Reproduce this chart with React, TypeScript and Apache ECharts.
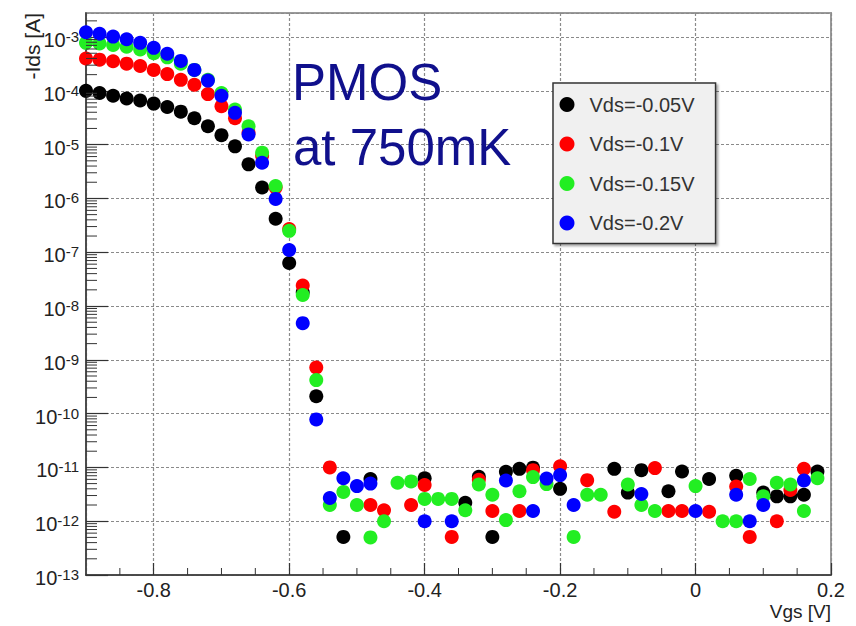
import React, { useEffect, useRef } from 'react';
import * as echarts from 'echarts';

// Gate voltage (V)
const vgs = [
  -0.9, -0.88, -0.86, -0.84, -0.82, -0.8, -0.78, -0.76, -0.74, -0.72,
  -0.7, -0.68, -0.66, -0.64, -0.62, -0.6, -0.58, -0.56, -0.54, -0.52,
  -0.5, -0.48, -0.46, -0.44, -0.42, -0.4, -0.38, -0.36, -0.34, -0.32,
  -0.3, -0.28, -0.26, -0.24, -0.22, -0.2, -0.18, -0.16, -0.14, -0.12,
  -0.1, -0.08, -0.06, -0.04, -0.02, 0, 0.02, 0.04, 0.06, 0.08,
  0.1, 0.12, 0.14, 0.16, 0.18,
];

// -Ids (A); null = not shown (negative / below range)
const idsVds005 = [
  1.0e-4, 9.1e-5, 8.1e-5, 7.2e-5, 6.6e-5, 5.8e-5, 5.0e-5, 4.1e-5, 3.1e-5, 2.2e-5,
  1.5e-5, 9.3e-6, 4.3e-6, 1.6e-6, 4.2e-7, 6.3e-8, 1.8e-8, 2.1e-10, null, 5.1e-13,
  null, 6.1e-12, null, null, null, 6.3e-12, null, null, 2.2e-12, 6.7e-12,
  5.1e-13, 8.3e-12, 9.4e-12, 9.9e-12, null, 4.0e-12, null, null, null, 9.4e-12,
  3.4e-12, 8.9e-12, null, 3.6e-12, 8.4e-12, null, 6.1e-12, null, 7.0e-12, null,
  3.4e-12, 2.9e-12, 2.9e-12, 3.1e-12, 8.4e-12,
];
const idsVds01 = [
  4.0e-4, 3.8e-4, 3.55e-4, 3.2e-4, 2.9e-4, 2.45e-4, 2.05e-4, 1.6e-4, 1.3e-4, 8.7e-5,
  5.2e-5, 3.1e-5, 1.66e-5, 6.2e-6, 1.6e-6, 2.7e-7, 2.4e-8, 7.2e-10, 1.0e-11, null,
  null, 2.0e-12, 1.6e-12, null, 2.0e-12, 4.7e-12, null, 5.1e-13, null, 5.9e-12,
  1.55e-12, null, 1.55e-12, 8.9e-12, null, 1.05e-11, null, 5.8e-12, null, 1.5e-12,
  null, null, 9.7e-12, 1.55e-12, 1.55e-12, null, 1.5e-12, null, 4.4e-12, 5.1e-13,
  null, 1.0e-12, 3.8e-12, 9.4e-12, null,
];
const idsVds015 = [
  7.8e-4, 7.6e-4, 7.1e-4, 6.6e-4, 5.9e-4, 5.0e-4, 4.2e-4, 3.2e-4, 2.45e-4, 1.6e-4,
  9.1e-5, 4.5e-5, 2.2e-5, 7.1e-6, 1.7e-6, 2.5e-7, 1.6e-8, 4.2e-10, 2.0e-12, 3.5e-12,
  2.0e-12, 5.0e-13, 1.0e-12, 5.2e-12, 5.5e-12, 2.6e-12, 2.6e-12, 2.6e-12, 1.6e-12, 4.8e-12,
  3.1e-12, 1.05e-12, 3.6e-12, 6.6e-12, 4.9e-12, null, 5.1e-13, 3.1e-12, 3.1e-12, null,
  4.8e-12, 2.0e-12, 1.55e-12, null, null, 4.5e-12, null, 1.0e-12, 1.0e-12, 6.1e-12,
  2.9e-12, 5.2e-12, 4.8e-12, 1.55e-12, 6.3e-12,
];
const idsVds02 = [
  1.23e-3, 1.15e-3, 1.02e-3, 9.1e-4, 7.8e-4, 6.3e-4, 4.9e-4, 3.6e-4, 2.45e-4, 1.55e-4,
  8.1e-5, 3.9e-5, 1.55e-5, 4.6e-6, 9.8e-7, 1.1e-7, 4.8e-9, 7.8e-11, 2.7e-12, 6.3e-12,
  4.5e-12, 5.0e-12, null, null, null, 1.0e-12, null, 1.0e-12, null, null,
  null, 5.7e-12, null, 1.55e-12, 6.2e-12, 7.2e-12, 2.0e-12, null, null, null,
  null, 3.2e-12, null, null, null, 1.55e-12, null, null, 3.1e-12, 1.0e-12,
  2.0e-12, null, null, 5.7e-12, null,
];

const seriesNames = ['Vds=-0.05V', 'Vds=-0.1V', 'Vds=-0.15V', 'Vds=-0.2V'];
const seriesData = [idsVds005, idsVds01, idsVds015, idsVds02];
const seriesColors = ['#000000', '#ff0000', '#22ee22', '#0000ff'];

// Axis ranges / ticks
const xMin = -0.9;
const xMax = 0.2;
const yMinCurrent = 1e-13;
const yMaxCurrent = 2.8e-3;
const yDecades = [-13, -12, -11, -10, -9, -8, -7, -6, -5, -4, -3];
const yMinorMultipliers = [2, 3, 4, 5, 6, 7, 8, 9];
const xMinorTicks = [-0.85, -0.75, -0.7, -0.65, -0.55, -0.5, -0.45, -0.35, -0.3, -0.25, -0.15, -0.1, -0.05, 0.05, 0.1, 0.15];

const FONT = "'Liberation Sans', Arial, Helvetica, sans-serif";

export default function App() {
  const ref = useRef<HTMLDivElement>(null);

  useEffect(() => {
    if (!ref.current) return;
    const chart = echarts.init(ref.current, null, { renderer: 'svg' });
    const yMin = Math.log10(yMinCurrent);
    const yMax = Math.log10(yMaxCurrent);

    const scatterSeries = seriesNames.map((name, si) => ({
      type: 'scatter',
      name,
      symbol: 'circle',
      symbolSize: 14,
      itemStyle: { color: seriesColors[si], opacity: 1 },
      data: vgs
        .map((v, i) => {
          const c = seriesData[si][i];
          return c == null ? null : [v, Math.log10(c)];
        })
        .filter((p) => p !== null),
      z: 3,
    }));

    const minorTickSeries = {
      type: 'custom',
      name: 'minorTicks',
      silent: true,
      z: 4,
      data: [[xMin, yMin]],
      renderItem: (_params: any, api: any) => {
        const children: any[] = [];
        yDecades.forEach((d) => {
          yMinorMultipliers.forEach((m) => {
            const val = d + Math.log10(m);
            if (val >= yMax) return;
            const p = api.coord([xMin, val]);
            children.push({
              type: 'line',
              shape: { x1: p[0], y1: p[1], x2: p[0] + 11, y2: p[1] },
              style: { stroke: '#333', lineWidth: 1 },
            });
          });
        });
        xMinorTicks.forEach((v) => {
          const p = api.coord([v, yMin]);
          children.push({
            type: 'line',
            shape: { x1: p[0], y1: p[1], x2: p[0], y2: p[1] - 7 },
            style: { stroke: '#333', lineWidth: 1 },
          });
        });
        return { type: 'group', children };
      },
    };

    const option: any = {
      animation: false,
      backgroundColor: '#ffffff',
      grid: {
        left: 86,
        right: 25,
        top: 13,
        bottom: 51,
        containLabel: false,
        outerBoundsMode: 'none',
        show: true,
        borderColor: '#9a9a9a',
        borderWidth: 2,
        backgroundColor: 'transparent',
      },
      xAxis: {
        type: 'value',
        min: xMin,
        max: xMax,
        splitNumber: 5,
        axisLine: { show: true, onZero: false, lineStyle: { color: '#333', width: 1.5 } },
        axisTick: { show: true, inside: true, length: 12, lineStyle: { color: '#333', width: 1.2 } },
        minorTick: { show: false },
        axisLabel: {
          margin: 5,
          fontSize: 20,
          fontFamily: FONT,
          color: '#222',
          showMinLabel: false,
          showMaxLabel: true,
        },
        splitLine: { show: true, lineStyle: { color: '#8a8a8a', type: [3, 2], width: 1.2 } },
      },
      yAxis: {
        type: 'value',
        min: yMin,
        max: yMax,
        interval: 1,
        axisLine: { show: true, onZero: false, lineStyle: { color: '#333', width: 1.5 } },
        axisTick: { show: true, inside: true, length: 22, lineStyle: { color: '#333', width: 1.2 } },
        axisLabel: {
          margin: 7,
          showMaxLabel: false,
          padding: [6, 0, 0, 0],
          formatter: (v: number) => {
            if (Math.abs(v - Math.round(v)) > 1e-6) return '';
            return `{a|10}{s|${Math.round(v)}}`;
          },
          rich: {
            a: { fontSize: 20, fontFamily: FONT, color: '#222', lineHeight: 22 },
            s: { fontSize: 15, fontFamily: FONT, color: '#222', lineHeight: 14, verticalAlign: 'top' },
          },
        },
        splitLine: { show: true, lineStyle: { color: '#8a8a8a', type: [3, 2], width: 1.2 } },
      },
      legend: {
        data: seriesNames,
        orient: 'vertical',
        left: 553,
        top: 83,
        itemWidth: 35,
        itemHeight: 15,
        itemGap: 19.5,
        icon: 'circle',
        selectedMode: false,
        padding: [11.5, 21, 10.5, 6.5],
        backgroundColor: '#f0f0f0',
        borderColor: '#333',
        borderWidth: 1.5,
        shadowColor: 'rgba(0,0,0,0.35)',
        shadowBlur: 2,
        shadowOffsetX: 2,
        shadowOffsetY: 2,
        textStyle: { fontSize: 20, fontFamily: FONT, color: '#333', lineHeight: 15 },
      },
      graphic: [
        {
          type: 'text',
          x: 292,
          y: 82.5,
          z: 100,
          style: { text: 'PMOS', fontSize: 51, fontFamily: FONT, fill: '#10108c', align: 'left', verticalAlign: 'middle' },
        },
        {
          type: 'text',
          x: 293,
          y: 147,
          z: 100,
          style: { text: 'at 750mK', fontSize: 51, fontFamily: FONT, fill: '#10108c', align: 'left', verticalAlign: 'middle' },
        },
        {
          type: 'text',
          x: 32,
          y: 13,
          rotation: Math.PI / 2,
          z: 100,
          style: { text: '-Ids [A]', fontSize: 21, fontFamily: FONT, fill: '#222', align: 'right', verticalAlign: 'middle' },
        },
        {
          type: 'text',
          x: 831,
          y: 611,
          z: 100,
          style: { text: 'Vgs [V]', fontSize: 19, fontFamily: FONT, fill: '#222', align: 'right', verticalAlign: 'middle' },
        },
      ],
      series: [...scatterSeries, minorTickSeries],
    };

    chart.setOption(option);
    return () => chart.dispose();
  }, []);

  return (
    <div
      ref={ref}
      style={{ position: 'fixed', left: 0, top: 0, width: 856, height: 626, background: '#fff' }}
    />
  );
}
